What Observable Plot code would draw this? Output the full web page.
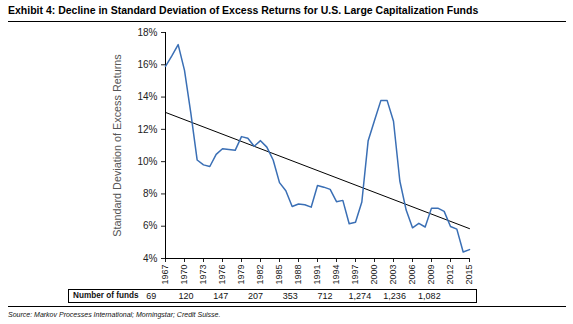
<!DOCTYPE html>
<html>
<head>
<meta charset="utf-8">
<script src="https://cdn.jsdelivr.net/npm/d3@7"></script>
<script src="https://cdn.jsdelivr.net/npm/@observablehq/plot@0.6"></script>
<style>
  html, body { margin: 0; padding: 0; background: #fff; }
  #wrap { position: relative; width: 573px; height: 324px; font-family: "Liberation Sans", Arial, sans-serif; overflow: hidden; }
  #title { position: absolute; left: 8px; top: 4px; font-size: 10.5px; font-weight: bold; color: #000; white-space: nowrap; }
  .rule { position: absolute; left: 8px; width: 558px; height: 1px; background: #000; }
  #chart { position: absolute; left: 0; top: 24px; }
  #table { position: absolute; left: 68px; top: 289px; width: 407px; height: 12px; border: 1px solid #000; box-sizing: content-box; font-size: 9px; color: #111; }
  #table .lab { position: absolute; left: 4px; top: 0px; font-weight: bold; font-size: 8.2px; line-height: 12px; }
  #table .cells { position: absolute; left: 65px; top: 0; display: flex; line-height: 12px; }
  #table .cells span { display: block; width: 34.75px; text-align: center; }
  #source { position: absolute; left: 8px; top: 311px; font-size: 7px; font-style: italic; color: #111; }
</style>
</head>
<body>
<div id="wrap">
  <div id="title"></div>
  <div class="rule" style="top:21px"></div>
  <div id="chart"></div>
  <div id="table"><div class="lab"></div><div class="cells"></div></div>
  <div class="rule" style="top:306px"></div>
  <div id="source"></div>
</div>
<script>
const titleText = "Exhibit 4: Decline in Standard Deviation of Excess Returns for U.S. Large Capitalization Funds";
const yLabel = "Standard Deviation of Excess Returns";
const sourceText = "Source: Markov Processes International; Morningstar; Credit Suisse.";

const years = [1967,1968,1969,1970,1971,1972,1973,1974,1975,1976,1977,1978,1979,1980,1981,1982,1983,1984,1985,1986,1987,1988,1989,1990,1991,1992,1993,1994,1995,1996,1997,1998,1999,2000,2001,2002,2003,2004,2005,2006,2007,2008,2009,2010,2011,2012,2013,2014,2015];
const stdDev = [15.9,16.55,17.25,15.65,13.0,10.1,9.8,9.7,10.45,10.8,10.75,10.7,11.55,11.45,10.95,11.3,10.9,10.1,8.7,8.2,7.22,7.38,7.33,7.18,8.52,8.42,8.28,7.52,7.6,6.15,6.25,7.5,11.3,12.55,13.78,13.78,12.5,8.8,7.0,5.9,6.18,5.95,7.12,7.12,6.92,5.98,5.82,4.4,4.55];

const trendYears = [1967, 2015];
const trendValues = [13.05, 5.85];

const xTicks = [1967,1970,1973,1976,1979,1982,1985,1988,1991,1994,1997,2000,2003,2006,2009,2012,2015];
const yTicks = [4,6,8,10,12,14,16,18];

const fundsLabel = "Number of funds";
const fundCounts = ["69","120","147","207","353","712","1,274","1,236","1,082"];

document.getElementById("title").textContent = titleText;
document.getElementById("source").textContent = sourceText;
document.querySelector("#table .lab").textContent = fundsLabel;
const cells = document.querySelector("#table .cells");
fundCounts.forEach(v => { const s = document.createElement("span"); s.textContent = v; cells.appendChild(s); });

const series = years.map((y, i) => ({year: y, value: stdDev[i]}));
const trend = trendYears.map((y, i) => ({year: y, value: trendValues[i]}));

const chart = Plot.plot({
  width: 573,
  height: 262,
  marginLeft: 165,
  marginRight: 104,
  marginTop: 8,
  marginBottom: 28,
  style: { fontFamily: "'Liberation Sans', Arial, sans-serif", fontSize: "10px", background: "transparent", color: "#222" },
  x: { domain: [1967, 2015] },
  y: { domain: [4, 18] },
  marks: [
    Plot.axisY({ ticks: yTicks, tickFormat: d => d + "%", tickSize: 4, tickPadding: 4, label: null, fontSize: 10 }),
    Plot.axisY({ ticks: [], tickSize: 0, label: yLabel, labelAnchor: "center", labelArrow: "none", labelOffset: 52, fontSize: 10.8, color: "#555" }),
    Plot.axisX({ ticks: xTicks, tickFormat: d => String(d), tickSize: 4, tickPadding: 2, tickRotate: -90, label: null, fontSize: 9 }),
    Plot.ruleX([1967], { stroke: "#000", strokeWidth: 1 }),
    Plot.ruleY([4], { stroke: "#000", strokeWidth: 1 }),
    Plot.line(trend, { x: "year", y: "value", stroke: "#000", strokeWidth: 1 }),
    Plot.line(series, { x: "year", y: "value", stroke: "#3a6fb5", strokeWidth: 1.5 })
  ]
});
document.getElementById("chart").appendChild(chart);
</script>
</body>
</html>
